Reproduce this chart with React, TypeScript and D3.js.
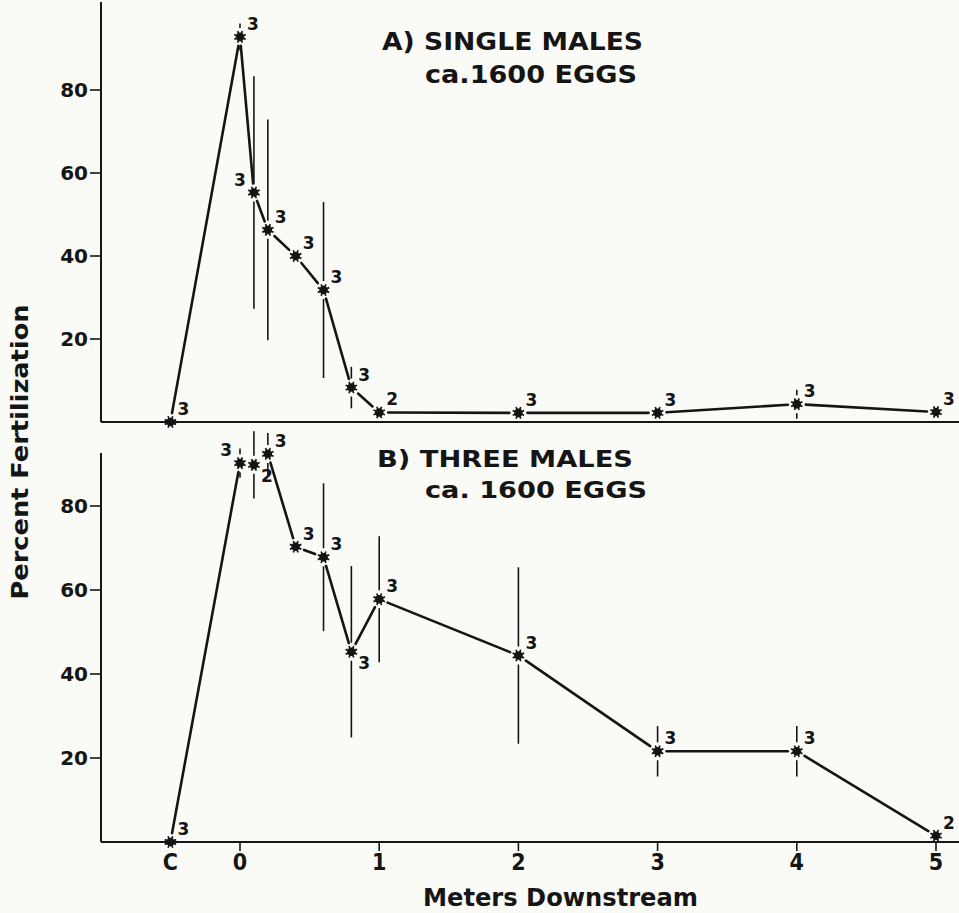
import React from "react";
import * as d3 from "d3";

// ---- data ----
const positionsA = [-0.5, 0, 0.1, 0.2, 0.4, 0.6, 0.8, 1, 2, 3, 4, 5];
const valuesA = [0, 92.8, 55.3, 46.3, 40, 31.8, 8.3, 2.3, 2.2, 2.2, 4.3, 2.4];
const errorsA = [0, 3.2, 28, 26.6, 0, 21.2, 5, 0, 1.5, 1.5, 3.5, 0];
const nA = ["3", "3", "3", "3", "3", "3", "3", "2", "3", "3", "3", "3"];
const labelPosA = ["ur", "ur", "ul", "ur", "ur", "ur", "ur", "ur", "ur", "ur", "ur", "ur"];

const positionsB = [-0.5, 0, 0.1, 0.2, 0.4, 0.6, 0.8, 1, 2, 3, 4, 5];
const valuesB = [0, 90.2, 89.8, 92.4, 70.3, 67.8, 45.3, 57.8, 44.4, 21.6, 21.6, 1.5];
const errorsB = [0, 3.5, 8, 5, 0, 17.6, 20.4, 15, 21, 6, 6, 0];
const nB = ["3", "3", "2", "3", "3", "3", "3", "3", "3", "3", "3", "2"];
const labelPosB = ["ur", "ul", "lr", "ur", "ur", "ur", "lr", "ur", "ur", "ur", "ur", "ur"];

const yTicks = [20, 40, 60, 80];
const xTickValues = [-0.5, 0, 1, 2, 3, 4, 5];
const xTickLabels = ["C", "0", "1", "2", "3", "4", "5"];

const titleA = ["A) SINGLE MALES", "ca.1600 EGGS"];
const titleB = ["B) THREE MALES", "ca. 1600 EGGS"];
const yLabel = "Percent Fertilization";
const xLabel = "Meters Downstream";

const W = 959;
const H = 913;
const INK = "#151515";
const FONT = "'DejaVu Sans', 'Liberation Sans', Arial, sans-serif";
const NARROW = "'Liberation Sans Narrow', 'DejaVu Sans Condensed', 'Liberation Sans', sans-serif";

const x = d3.scaleLinear().domain([0, 5]).range([240, 936]);
const yA = d3.scaleLinear().domain([0, 80]).range([422, 90]);
const yB = d3.scaleLinear().domain([0, 80]).range([842, 506]);
const axisX = 101;

function Marker({ cx, cy }: { cx: number; cy: number }) {
  const rays = d3.range(8).map((i) => (i * Math.PI) / 4 + Math.PI / 8);
  return (
    <g>
      <circle cx={cx} cy={cy} r={4.3} fill={INK} />
      {rays.map((a, i) => (
        <line
          key={i}
          x1={cx}
          y1={cy}
          x2={cx + Math.cos(a) * 6.2}
          y2={cy + Math.sin(a) * 6.2}
          stroke={INK}
          strokeWidth={1.7}
        />
      ))}
    </g>
  );
}

type TitleLayout = { x1: number; y1: number; w1: number; x2: number; y2: number; w2: number; fs: number };

function Panel({
  pos,
  vals,
  errs,
  ns,
  lp,
  y,
  top,
  title,
  tl,
  showX,
}: {
  pos: number[];
  vals: number[];
  errs: number[];
  ns: string[];
  lp: string[];
  y: d3.ScaleLinear<number, number>;
  top: number;
  title: string[];
  tl: TitleLayout;
  showX: boolean;
}) {
  const pts = pos.map((p, i) => ({ px: x(p), py: y(vals[i]), e: errs[i], n: ns[i], l: lp[i] }));
  const gap = 9;
  const segs = pts.slice(1).map((b, i) => {
    const a = pts[i];
    const dx = b.px - a.px;
    const dy = b.py - a.py;
    const len = Math.hypot(dx, dy);
    const ux = dx / len;
    const uy = dy / len;
    return { x1: a.px + ux * gap, y1: a.py + uy * gap, x2: b.px - ux * gap, y2: b.py - uy * gap, ok: len > 2 * gap + 2 };
  });
  const base = y(0);
  const labelOff: Record<string, [number, number, string]> = {
    ur: [7, -7, "start"],
    ul: [-8, -7, "end"],
    lr: [7, 17, "start"],
  };
  return (
    <g>
      {/* axes */}
      <line x1={axisX} y1={top} x2={axisX} y2={base} stroke={INK} strokeWidth={2} />
      <line x1={axisX} y1={base} x2={W} y2={base} stroke={INK} strokeWidth={2} />
      {yTicks.map((t) => (
        <g key={t}>
          <line x1={axisX - 11} x2={axisX} y1={y(t)} y2={y(t)} stroke={INK} strokeWidth={1.6} />
          <text
            x={axisX - 13}
            y={y(t)}
            dy="0.36em"
            textAnchor="end"
            fontFamily={FONT}
            fontWeight="bold"
            fontSize={20}
            fill={INK}
          >
            {t}
          </text>
        </g>
      ))}
      {showX &&
        xTickValues.map((t, i) => (
          <g key={t}>
            {t >= 0 && <line x1={x(t)} x2={x(t)} y1={base} y2={base + 9} stroke={INK} strokeWidth={1.6} />}
            <text
              x={x(t)}
              y={base + 28}
              textAnchor="middle"
              fontFamily={NARROW}
              fontWeight="bold"
              fontSize={23}
              fill={INK}
            >
              {xTickLabels[i]}
            </text>
          </g>
        ))}
      {/* title */}
      <text
        x={tl.x1}
        y={tl.y1}
        fontFamily={FONT}
        fontWeight="bold"
        fontSize={tl.fs}
        fill={INK}
        textLength={tl.w1}
        lengthAdjust="spacingAndGlyphs"
      >
        {title[0]}
      </text>
      <text
        x={tl.x2}
        y={tl.y2}
        fontFamily={FONT}
        fontWeight="bold"
        fontSize={tl.fs}
        fill={INK}
        textLength={tl.w2}
        lengthAdjust="spacingAndGlyphs"
      >
        {title[1]}
      </text>
      {/* error bars */}
      {pts.map((p, i) => {
        const h = y(0) - y(p.e);
        return p.e > 0 && h > gap ? (
          <g key={"e" + i}>
            <line x1={p.px} x2={p.px} y1={p.py - h} y2={p.py - gap} stroke={INK} strokeWidth={1.6} />
            <line x1={p.px} x2={p.px} y1={p.py + gap} y2={p.py + h} stroke={INK} strokeWidth={1.6} />
          </g>
        ) : null;
      })}
      {/* connecting line */}
      {segs.map((s, i) =>
        s.ok ? (
          <line key={"s" + i} x1={s.x1} y1={s.y1} x2={s.x2} y2={s.y2} stroke={INK} strokeWidth={2.6} strokeLinecap="round" />
        ) : null
      )}
      {/* markers + labels */}
      {pts.map((p, i) => {
        const [dx, dy, anchor] = labelOff[p.l];
        return (
          <g key={"m" + i}>
            <Marker cx={p.px} cy={p.py} />
            <text
              x={p.px + dx}
              y={p.py + dy}
              textAnchor={anchor}
              fontFamily={FONT}
              fontWeight="bold"
              fontSize={17}
              fill={INK}
            >
              {p.n}
            </text>
          </g>
        );
      })}
    </g>
  );
}

export default function App() {
  return (
    <svg
      width={W}
      height={H}
      viewBox={`0 0 ${W} ${H}`}
      style={{ position: "absolute", left: 0, top: 0, background: "#fafaf6" }}
    >
      <rect width={W} height={H} fill="#fafaf6" />
      <Panel
        pos={positionsA}
        vals={valuesA}
        errs={errorsA}
        ns={nA}
        lp={labelPosA}
        y={yA}
        top={2}
        title={titleA}
        tl={{ x1: 382, y1: 50, w1: 261, x2: 425, y2: 83, w2: 212, fs: 24 }}
        showX={false}
      />
      <Panel
        pos={positionsB}
        vals={valuesB}
        errs={errorsB}
        ns={nB}
        lp={labelPosB}
        y={yB}
        top={453}
        title={titleB}
        tl={{ x1: 377, y1: 467, w1: 256, x2: 425, y2: 498, w2: 222, fs: 23 }}
        showX={true}
      />
      <text
        transform={`translate(28, 452) rotate(-90)`}
        textAnchor="middle"
        fontFamily={FONT}
        fontWeight="bold"
        fontSize={23}
        fill={INK}
        textLength={295}
        lengthAdjust="spacingAndGlyphs"
      >
        {yLabel}
      </text>
      <text
        x={423}
        y={906}
        fontFamily={FONT}
        fontWeight="bold"
        fontSize={24}
        fill={INK}
        textLength={275}
        lengthAdjust="spacingAndGlyphs"
      >
        {xLabel}
      </text>
    </svg>
  );
}
